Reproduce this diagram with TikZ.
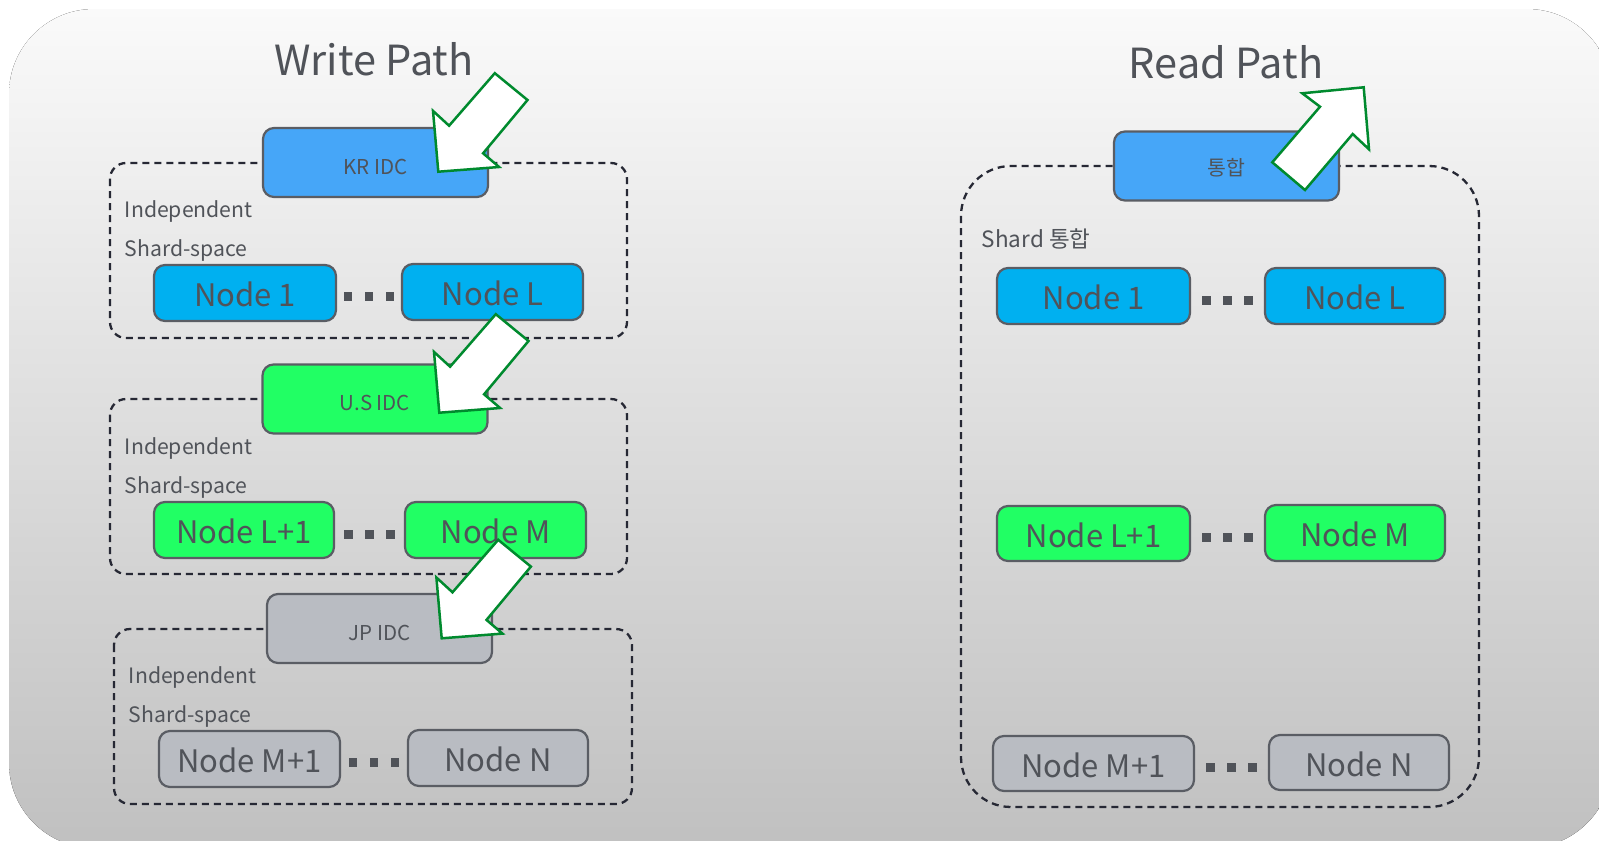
\documentclass[tikz,border=0pt]{standalone}
\usepackage{fontspec}
\setmainfont{Noto Sans CJK KR}
\usetikzlibrary{calc}
\definecolor{bgtop}{RGB}{250,250,250}
\definecolor{bgbot}{RGB}{192,192,192}
\definecolor{idcblue}{RGB}{70,166,248}
\definecolor{nodeblue}{RGB}{0,176,240}
\definecolor{nodegreen}{RGB}{33,255,100}
\definecolor{nodegray}{RGB}{185,188,194}
\definecolor{bordc}{RGB}{90,93,100}
\definecolor{txtc}{RGB}{80,83,89}
\definecolor{dashc}{RGB}{38,40,52}
\definecolor{arrowc}{RGB}{0,138,46}
\tikzset{
  x=1pt, y=-1pt,
  box/.style={draw=bordc, line width=2.2pt, rounded corners=11pt, inner sep=0pt, text=txtc},
  idcbox/.style={box, minimum width=225pt, minimum height=69pt, text height=23pt, text depth=0pt,
     font=\fontsize{20.5}{24}\selectfont},
  shardbox/.style={box, minimum height=56pt, text height=27pt, text depth=0pt,
     font=\fontsize{31}{36}\selectfont},
  group/.style={draw=dashc, line width=2.3pt, dash pattern=on 7pt off 5pt, rounded corners=16pt},
  smalltxt/.style={anchor=base west, inner sep=0pt, text=txtc, font=\fontsize{21.2}{26}\selectfont},
  titletxt/.style={anchor=base, inner sep=0pt, text=txtc, font=\fontsize{41.5}{48}\selectfont},
  blockarrow/.style={draw=arrowc, fill=white, line width=2.5pt, line join=miter},
  dotsq/.style={fill=txtc},
}
\newcommand\threedots[2]{%
  \foreach \d in {-21,0,21}{%
    \fill[dotsq] ($($(#1.east)!0.5!(#2.west)$)+(\d-4.3,-0.5)$) rectangle ($($(#1.east)!0.5!(#2.west)$)+(\d+4.3,8.5)$);}}
\newcommand\warrow[2]{%
  \draw[blockarrow] (#1,#2) -- ++(60.8,-4.7) -- (#1+44.8,#2-18.4) -- (#1+89.2,#2-71.7)
     -- (#1+56.5,#2-98.5) -- (#1+10.8,#2-46) -- (#1-5.3,#2-60.8) -- cycle;}
\begin{document}
\begin{tikzpicture}
\useasboundingbox (0,0) rectangle (1599,841);
\begin{scope}
\clip (0,0) rectangle (1599,841);
\fill[top color=bgtop, bottom color=bgbot, rounded corners=85pt] (9,9) rectangle (1612,848);
\end{scope}

% titles
\node[titletxt] (wtitle) at (374,75.7) {Write Path};
\node[titletxt] (rtitle) at (1226,78) {Read Path};

% ---------- write path ----------
\draw[group] (110,163) rectangle (627,338);
\draw[group] (110,399) rectangle (627,574);
\draw[group] (114,629) rectangle (632,804);

\node[idcbox, fill=idcblue] (kr) at (375.5,162.5) {KR IDC};
\node[idcbox, fill=nodegreen] (us) at (375,399) {U.S IDC};
\node[idcbox, fill=nodegray] (jp) at (379.5,628.5) {JP IDC};

\node[smalltxt] (ind1) at (124.7,217.3) {Independent};
\node[smalltxt] (ss1) at (124.7,256) {Shard-space};
\node[smalltxt] (ind2) at (124.7,454.3) {Independent};
\node[smalltxt] (ss2) at (124.7,493) {Shard-space};
\node[smalltxt] (ind3) at (128.7,683.3) {Independent};
\node[smalltxt] (ss3) at (128.7,722) {Shard-space};

\node[shardbox, fill=nodeblue, minimum width=182pt] (w1) at (245,293) {Node 1};
\node[shardbox, fill=nodeblue, minimum width=181pt] (wl) at (492.5,292) {Node L};
\node[shardbox, fill=nodegreen, minimum width=180pt] (wl1) at (244,530) {Node L+1};
\node[shardbox, fill=nodegreen, minimum width=181pt] (wm) at (495.5,530) {Node M};
\node[shardbox, fill=nodegray, minimum width=181pt] (wm1) at (249.5,759) {Node M+1};
\node[shardbox, fill=nodegray, minimum width=180pt] (wn) at (498,758) {Node N};
\threedots{w1}{wl}
\threedots{wl1}{wm}
\threedots{wm1}{wn}

% ---------- read path ----------
\draw[group, rounded corners=50pt] (961,166) rectangle (1479,807);
\node[idcbox, fill=idcblue, text height=19pt] (merge) at (1226.5,166) {통합};
\node[anchor=base west, inner sep=0pt, text=txtc, font=\fontsize{22.5}{26}\selectfont] (shardm) at (981.7,247.7) {Shard 통합};

\node[shardbox, fill=nodeblue, minimum width=193pt] (r1) at (1093.5,296) {Node 1};
\node[shardbox, fill=nodeblue, minimum width=180pt] (rl) at (1355,296) {Node L};
\node[shardbox, fill=nodegreen, minimum width=193pt, minimum height=55pt] (rl1) at (1093.5,533.5) {Node L+1};
\node[shardbox, fill=nodegreen, minimum width=180pt] (rm) at (1355,533) {Node M};
\node[shardbox, fill=nodegray, minimum width=201pt, minimum height=55pt] (rm1) at (1093.5,763.5) {Node M+1};
\node[shardbox, fill=nodegray, minimum width=180pt, minimum height=55pt] (rn) at (1359,762.5) {Node N};
\threedots{r1}{rl}
\threedots{rl1}{rm}
\threedots{rm1}{rn}

% ---------- block arrows ----------
\warrow{438.3}{171.7}
\warrow{439.3}{412.7}
\warrow{441.7}{638.3}
\draw[blockarrow] (1363.7,87.3) -- (1369,149.3) -- (1352.7,134) -- (1305,190)
   -- (1272.3,162.3) -- (1320,106.7) -- (1302.3,93.3) -- cycle;
\end{tikzpicture}
\end{document}
